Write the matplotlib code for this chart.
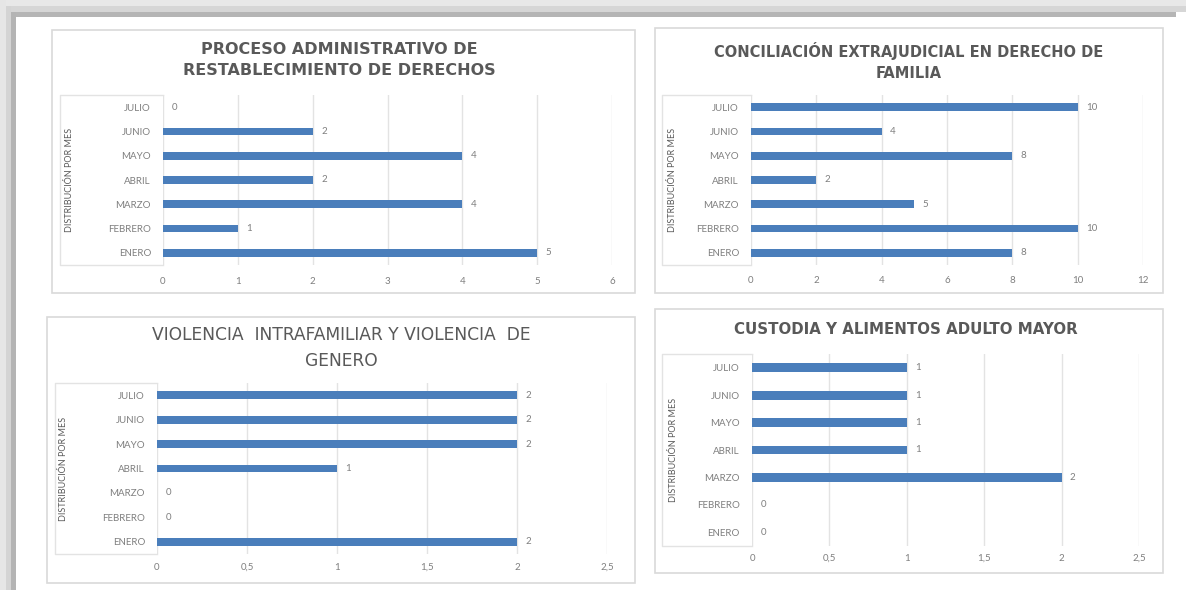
import numpy as np
import matplotlib.pyplot as plt
from matplotlib.patches import Rectangle
from matplotlib.lines import Line2D

W, H = 1186, 590

meses = ['ENERO', 'FEBRERO', 'MARZO', 'ABRIL', 'MAYO', 'JUNIO', 'JULIO']
proceso_adm = [5, 1, 4, 2, 4, 2, 0]
conciliacion = [8, 10, 5, 2, 8, 4, 10]
violencia = [2, 0, 0, 1, 2, 2, 2]
custodia = [0, 0, 2, 1, 1, 1, 1]

titulos = ['PROCESO ADMINISTRATIVO DE\nRESTABLECIMIENTO DE DERECHOS',
           'CONCILIACIÓN EXTRAJUDICIAL EN DERECHO DE\nFAMILIA',
           'VIOLENCIA  INTRAFAMILIAR Y VIOLENCIA  DE\nGENERO',
           'CUSTODIA Y ALIMENTOS ADULTO MAYOR']
eje_y = 'DISTRIBUCIÓN POR MES'

AZUL = '#4a7ebb'
GRIS_TXT = '#7f7f7f'
GRIS_TIT = '#595959'
GRID = '#e3e3e3'
BORDE = '#d9d9d9'

plt.rcParams['font.family'] = ['Lato', 'DejaVu Sans']

fig = plt.figure(figsize=(W / 100, H / 100), dpi=100)
fig.patch.set_facecolor('white')


def fx(x):
    return x / W


def fy(y):
    return 1 - y / H


def rect_px(x0, y0, x1, y1, **kw):
    fig.add_artist(Rectangle((fx(x0), fy(y1)), fx(x1) - fx(x0), fy(y0) - fy(y1),
                             transform=fig.transFigure, **kw))


def line_px(xs, ys, **kw):
    fig.add_artist(Line2D([fx(x) for x in xs], [fy(y) for y in ys],
                          transform=fig.transFigure, **kw))


# marco gris de la captura
rect_px(0, 0, W, 6, color='#e8e8e8', lw=0)
rect_px(0, 6, W, 12, color='#d6d6d6', lw=0)
rect_px(16, 12, W - 10, 17, color='#b5b5b5', lw=0)
rect_px(0, 0, 6, H, color='#e6e6e6', lw=0)
rect_px(6, 6, 11, H, color='#d4d4d4', lw=0)
rect_px(11, 12, 16, H, color='#b4b4b4', lw=0)


def coma(v):
    s = ('%g' % v).replace('.', ',')
    return s


paneles = [
    dict(vals=proceso_adm, borde=(52, 30, 635, 293), ax=(163, 95, 612, 265),
         xmax=6, paso=1, caja=60, ylab=70, tit_y=60, tit_x=339, bold=True, fs=11.5,
         xpad=17),
    dict(vals=conciliacion, borde=(655, 28, 1163, 293), ax=(751, 95, 1143, 265),
         xmax=12, paso=2, caja=662, ylab=672, tit_y=61, tit_x=909, bold=True, fs=10.5,
         xpad=16),
    dict(vals=violencia, borde=(47, 317, 635, 583), ax=(157, 383, 607, 554),
         xmax=2.5, paso=0.5, caja=55, ylab=63, tit_y=348, tit_x=341, bold=False, fs=12.3,
         xpad=14),
    dict(vals=custodia, borde=(655, 309, 1163, 573), ax=(752, 354, 1139, 546),
         xmax=2.5, paso=0.5, caja=662, ylab=674, tit_y=330, tit_x=906, bold=True, fs=10.8,
         xpad=13),
]

for p, titulo in zip(paneles, titulos):
    bx0, by0, bx1, by1 = p['borde']
    rect_px(bx0, by0, bx1, by1, fill=False, ec=BORDE, lw=1.2)

    x0, y0, x1, y1 = p['ax']
    ax = fig.add_axes([fx(x0), fy(y1), fx(x1) - fx(x0), fy(y0) - fy(y1)])
    ax.set_facecolor('none')
    y = np.arange(len(meses))
    bars = ax.barh(y, p['vals'], height=0.32, color=AZUL, zorder=3)
    ax.bar_label(bars, labels=[coma(v) for v in p['vals']], padding=6,
                 fontsize=7, color=GRIS_TXT)
    ax.set_xlim(0, p['xmax'])
    ax.set_ylim(-0.5, len(meses) - 0.5)
    ticks = np.arange(0, p['xmax'] + p['paso'] / 2, p['paso'])
    ax.set_xticks(ticks)
    ax.set_xticklabels([coma(t) for t in ticks])
    ax.set_yticks(y)
    ax.set_yticklabels(meses)
    ax.grid(axis='x', color=GRID, lw=1, zorder=0)
    for s in ax.spines.values():
        s.set_visible(False)
    ax.tick_params(axis='both', length=0, labelsize=7, labelcolor=GRIS_TXT)
    ax.tick_params(axis='x', pad=(p['xpad'] - 5) * 0.72)
    ax.tick_params(axis='y', pad=12 * 0.72)

    # caja de las categorias
    c = p['caja']
    line_px([x0, c, c, x0], [y0, y0, y1, y1], color=GRID, lw=1)

    fig.text(fx(p['ylab']), fy((y0 + y1) / 2), eje_y, rotation=90,
             ha='center', va='center', fontsize=6.5, color=GRIS_TIT)

    fig.text(fx(p['tit_x']), fy(p['tit_y']), titulo, ha='center', va='center',
             fontsize=p['fs'], fontweight='bold' if p['bold'] else 'normal',
             family=['DejaVu Sans'], color=GRIS_TIT, linespacing=1.5)

fig.savefig('out.png', dpi=100, facecolor='white')
